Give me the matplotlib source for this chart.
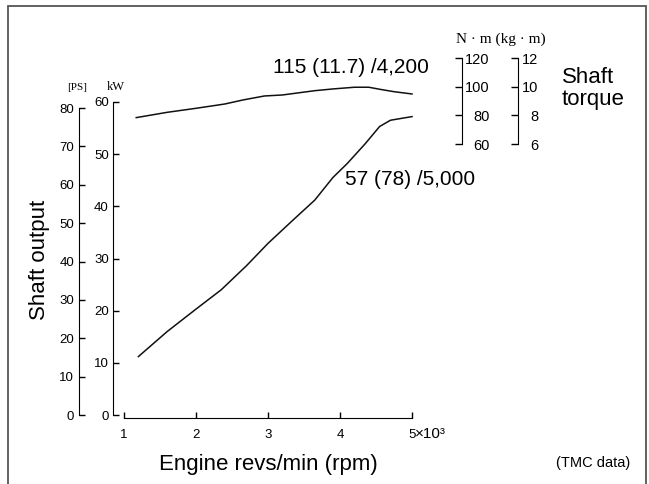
import matplotlib
matplotlib.use("Agg")
import matplotlib.pyplot as plt
from matplotlib.patches import Rectangle

plt.rcParams['font.family'] = ['Liberation Sans', 'DejaVu Sans']

# shaft output curve (kW)
output_rpm = [1200, 1600, 2000, 2350, 2700, 3000, 3350, 3650, 3900, 4100, 4350, 4550, 4700, 5000]
output_kw = [11.2, 16.0, 20.3, 24.0, 28.6, 32.9, 37.4, 41.2, 45.5, 48.2, 52.0, 55.3, 56.5, 57.2]

# shaft torque curve (N*m)
torque_rpm = [1170, 1600, 2000, 2400, 2650, 2950, 3200, 3650, 3900, 4200, 4400, 4550, 4750, 5000]
torque_nm = [93.8, 97.5, 100.3, 103.3, 106.1, 108.9, 109.6, 112.6, 113.8, 115.0, 115.0, 113.6, 111.9, 110.3]

rpm_ticks = [1000, 2000, 3000, 4000, 5000]
rpm_labels = ['1', '2', '3', '4', '5']
kw_ticks = [0, 10, 20, 30, 40, 50, 60]
ps_ticks = [0, 10, 20, 30, 40, 50, 60, 70, 80]
nm_ticks = [60, 80, 100, 120]
kgm_ticks = [6, 8, 10, 12]

KW_TO_PS = 1.35962
W, H = 649, 484


def px(x0, y0, x1, y1):
    # pixel box -> figure rect
    return [x0 / W, 1 - y1 / H, (x1 - x0) / W, (y1 - y0) / H]


def scale_axes(rect, lim, ticks, pos, pad):
    # one bare vertical scale, ticks pointing left, labels right-aligned on the right
    a = fig.add_axes(rect)
    a.patch.set_visible(False)
    a.set_ylim(*lim)
    for s in ['top', 'bottom', 'left']:
        a.spines[s].set_visible(False)
    a.spines['right'].set_position(('axes', pos))
    a.yaxis.tick_right()
    a.get_xaxis().set_visible(False)
    a.set_yticks(ticks)
    a.tick_params(axis='y', direction='in', length=5, width=1, labelsize=10.5, pad=pad)
    for t in a.get_yticklabels():
        t.set_ha('right')
    return a


fig = plt.figure(figsize=(6.49, 4.84), dpi=100)
fig.add_artist(Rectangle((8 / W, -0.01), 638 / W, 1.01 - 6 / H, transform=fig.transFigure,
                         fill=False, edgecolor='#555555', linewidth=1.3))

rect = px(124, 102, 412, 415)
ax = fig.add_axes(rect)
ax.patch.set_visible(False)
ax.set_xlim(1000, 5000)
ax.set_ylim(0, 60)
for s in ['top', 'right']:
    ax.spines[s].set_visible(False)
ax.spines['left'].set_position(('outward', 11 * 0.72))
ax.spines['bottom'].set_position(('outward', 3 * 0.72))
ax.spines['left'].set_bounds(0, 60)
ax.spines['bottom'].set_bounds(1000, 5000)
ax.set_xticks(rpm_ticks)
ax.set_xticklabels(rpm_labels)
ax.set_yticks(kw_ticks)
ax.tick_params(axis='y', direction='in', length=4, width=1, labelsize=9.5, pad=3)
ax.tick_params(axis='x', direction='in', length=4, width=1, labelsize=9.5, pad=8)
ax.plot(output_rpm, output_kw, color='#111111', lw=1.1, clip_on=False)

# PS scale, same heights as kW
ax_ps = fig.add_axes(rect)
ax_ps.patch.set_visible(False)
ax_ps.set_ylim(0, 60 * KW_TO_PS)
for s in ['top', 'right', 'bottom']:
    ax_ps.spines[s].set_visible(False)
ax_ps.spines['left'].set_position(('outward', 45 * 0.72))
ax_ps.spines['left'].set_bounds(0, 80)
ax_ps.get_xaxis().set_visible(False)
ax_ps.set_yticks(ps_ticks)
ax_ps.tick_params(axis='y', direction='in', length=4, width=1, labelsize=9.5, pad=3.5)

# torque curve on its own hidden scale
ax_t = ax.twinx()
ax_t.set_ylim(-113.7, 104.7)
ax_t.axis('off')
ax_t.plot(torque_rpm, torque_nm, color='#111111', lw=1.1, clip_on=False)

# torque scales top right
trect = px(462, 58, 518, 144)
ax_nm = scale_axes(trect, (60, 120), nm_ticks, 0, 20)
ax_kg = scale_axes(trect, (6, 12), kgm_ticks, 1, 14.5)

serif = ['Liberation Serif', 'DejaVu Serif']
fig.text(501 / W, 1 - 42.7 / H, 'N · m (kg · m)', family=serif, fontsize=11, ha='center', va='baseline')
fig.text(116 / W, 1 - 90 / H, 'kW', family=serif, fontsize=9, ha='center', va='baseline')
fig.text(77 / W, 1 - 90 / H, '[PS]', family=serif, fontsize=8, ha='center', va='baseline')

fig.text(272.7 / W, 1 - 73 / H, '115 (11.7) /4,200', fontsize=15, va='baseline')
fig.text(345 / W, 1 - 185 / H, '57 (78) /5,000', fontsize=15, va='baseline')
fig.text(561.7 / W, 1 - 83.3 / H, 'Shaft', fontsize=16, va='baseline')
fig.text(561.7 / W, 1 - 105 / H, 'torque', fontsize=16, va='baseline')
fig.text(40 / W, 1 - 260 / H, 'Shaft output', fontsize=16, rotation=90, ha='center', va='center')
fig.text(268 / W, 1 - 470 / H, 'Engine revs/min (rpm)', fontsize=16, ha='center', va='baseline')
fig.text(415 / W, 1 - 438.5 / H, '×10³', fontsize=11, va='baseline')
fig.text(556 / W, 1 - 467 / H, '(TMC data)', fontsize=10.5, va='baseline')

fig.savefig('out.png', dpi=100)
